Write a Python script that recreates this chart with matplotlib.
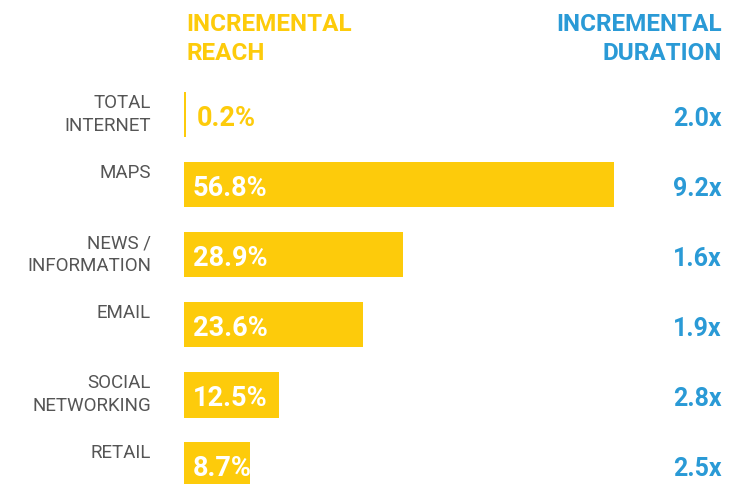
import matplotlib
matplotlib.use('Agg')
import matplotlib.pyplot as plt
from matplotlib import transforms

categories = ['TOTAL\nINTERNET', 'MAPS', 'NEWS /\nINFORMATION', 'EMAIL',
              'SOCIAL\nNETWORKING', 'RETAIL']
reach = [0.2, 56.8, 28.9, 23.6, 12.5, 8.7]
duration = [2.0, 9.2, 1.6, 1.9, 2.8, 2.5]

GOLD = '#FDCB0B'
BLUE = '#2A9AD6'
GREY = '#555555'
FONT = ['Roboto', 'DejaVu Sans']

W, H, DPI = 742, 485, 100
fig = plt.figure(figsize=(W / DPI, H / DPI), dpi=DPI)
fig.patch.set_facecolor('white')

# bars start at x=184px, longest bar ends near x=614px
left_px, bar_px = 184, 430
ax = fig.add_axes([left_px / W, 0, bar_px / W, 1])
ax.set_xlim(0, max(reach))
row0, pitch = 115.5, 70.1
ax.set_ylim((H - row0) / pitch, -row0 / pitch)
ax.axis('off')

ys = list(range(len(categories)))
ax.barh(ys, reach, height=0.645, color=GOLD, left=0, clip_on=False)

pt = 72 / DPI  # pixels -> points
trans = transforms.blended_transform_factory(fig.transFigure, ax.transData)
for y, cat, r, d in zip(ys, categories, reach, duration):
    # category label, top aligned with bar
    ax.annotate(cat, xy=(0, y - 0.3225), xytext=(-33 * pt, -1 * pt),
                textcoords='offset points', ha='right', va='top',
                fontsize=13.5, color=GREY, family=FONT, linespacing=1.33)
    inside = r > 3
    ax.annotate(f'{r:.1f}%', xy=(r if not inside else 0, y),
                xytext=((9 if inside else 11) * pt, -10.5 * pt),
                textcoords='offset points', ha='left', va='baseline',
                fontsize=19.5, fontweight='bold', family=FONT,
                color='white' if inside else GOLD)
    ax.annotate(f'{d:.1f}x', xy=(722 / W, y), xycoords=trans,
                xytext=(0, -10.5 * pt), textcoords='offset points',
                ha='right', va='baseline', fontsize=18, fontweight='bold',
                family=FONT, color=BLUE)

fig.text(186 / W, 1 - 13 / H, 'INCREMENTAL\nREACH', ha='left', va='top',
         fontsize=17.5, fontweight='bold', color=GOLD, family=FONT,
         linespacing=1.33)
fig.text(722 / W, 1 - 13 / H, 'INCREMENTAL\nDURATION', ha='right', va='top',
         fontsize=17.5, fontweight='bold', color=BLUE, family=FONT,
         linespacing=1.33, multialignment='right')

fig.savefig('out.png', dpi=DPI)
